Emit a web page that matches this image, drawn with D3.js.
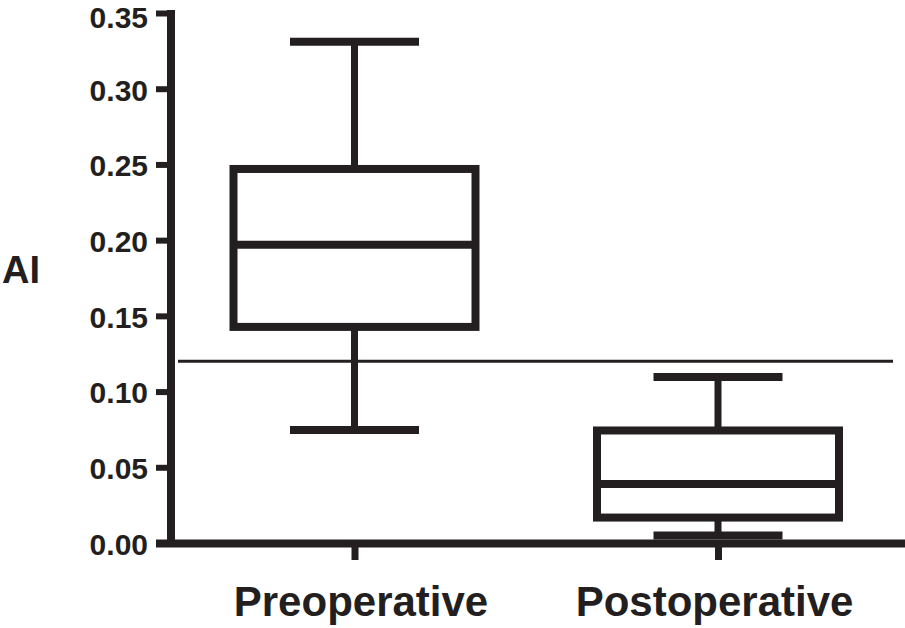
<!DOCTYPE html>
<html>
<head>
<meta charset="utf-8">
<script src="https://cdn.jsdelivr.net/npm/d3@7"></script>
<style>
  body { margin: 0; background: #fff; }
  text { font-family: "Liberation Sans", Arial, sans-serif; fill: #231f20; }
</style>
</head>
<body>
<svg id="chart" width="905" height="628"></svg>
<script>
var categories = ["Preoperative", "Postoperative"];
var mins = [0.0746, 0.005];
var q1s = [0.1427, 0.0168];
var medians = [0.197, 0.039];
var q3s = [0.247, 0.0743];
var maxs = [0.331, 0.1096];
var yTicks = [0, 0.05, 0.10, 0.15, 0.20, 0.25, 0.30, 0.35];
var refLine = 0.120;
var yLabel = "AI";

var INK = "#231f20";
var BOX_W = 242;
var CAP_W = 129;
var STROKE = 7;

var svg = d3.select("#chart");

var y = d3.scaleLinear().domain([0, 0.35]).range([543, 13]);
var x = d3.scalePoint().domain(categories).range([354.5, 718]);

var boxes = categories.map(function (c, i) {
  return { cat: c, min: mins[i], q1: q1s[i], med: medians[i], q3: q3s[i], max: maxs[i] };
});

// reference line (drawn under the boxes)
svg.append("line")
  .attr("x1", 178).attr("x2", 893)
  .attr("y1", y(refLine)).attr("y2", y(refLine))
  .style("stroke", INK).style("stroke-width", 3);

// y axis
var yAxis = svg.append("g")
  .attr("transform", "translate(171,0)")
  .call(d3.axisLeft(y).tickValues(yTicks).tickSize(15).tickPadding(8)
    .tickFormat(d3.format(".2f")));
yAxis.select(".domain").remove();
yAxis.selectAll(".tick line").style("stroke", INK).style("stroke-width", 6);
yAxis.selectAll(".tick text")
  .style("font-size", "30px").style("font-weight", "bold")
  .attr("dy", function (d) { return d === 0.35 ? "0.48em" : "0.38em"; }); // top label sits a bit lower

svg.append("line")
  .attr("x1", 171).attr("x2", 171).attr("y1", 10).attr("y2", 547)
  .style("stroke", INK).style("stroke-width", 8);

// x axis
svg.append("line")
  .attr("x1", 156).attr("x2", 905).attr("y1", 543.5).attr("y2", 543.5)
  .style("stroke", INK).style("stroke-width", 8);

var xAxis = svg.append("g")
  .attr("transform", "translate(0,543)")
  .call(d3.axisBottom(x).tickSize(17).tickPadding(26));
xAxis.select(".domain").remove();
xAxis.selectAll(".tick line").style("stroke", INK).style("stroke-width", 7);
xAxis.selectAll(".tick text")
  .style("font-size", "42px").style("font-weight", "bold")
  .attr("dx", function (d, i) { return i === 0 ? 6 : -4; })
  .attr("dy", "0.71em");

// boxes
var g = svg.selectAll("g.box").data(boxes).enter().append("g").attr("class", "box");

g.append("line")
  .attr("x1", function (d) { return x(d.cat); })
  .attr("x2", function (d) { return x(d.cat); })
  .attr("y1", function (d) { return y(d.max); })
  .attr("y2", function (d) { return y(d.min); })
  .style("stroke", INK).style("stroke-width", STROKE);

g.selectAll("line.cap")
  .data(function (d) { return [d.min, d.max].map(function (v) { return { cat: d.cat, v: v }; }); })
  .enter().append("line").attr("class", "cap")
  .attr("x1", function (d) { return x(d.cat) - CAP_W / 2; })
  .attr("x2", function (d) { return x(d.cat) + CAP_W / 2; })
  .attr("y1", function (d) { return y(d.v); })
  .attr("y2", function (d) { return y(d.v); })
  .style("stroke", INK).style("stroke-width", 8);

g.append("rect")
  .attr("x", function (d) { return x(d.cat) - BOX_W / 2; })
  .attr("y", function (d) { return y(d.q3); })
  .attr("width", BOX_W)
  .attr("height", function (d) { return y(d.q1) - y(d.q3); })
  .style("fill", "#fff").style("stroke", INK).style("stroke-width", 8);

g.append("line")
  .attr("x1", function (d) { return x(d.cat) - BOX_W / 2; })
  .attr("x2", function (d) { return x(d.cat) + BOX_W / 2; })
  .attr("y1", function (d) { return y(d.med); })
  .attr("y2", function (d) { return y(d.med); })
  .style("stroke", INK).style("stroke-width", 8);

// y label
svg.append("text")
  .attr("x", 2).attr("y", 283)
  .style("font-size", "38px").style("font-weight", "bold")
  .text(yLabel);
</script>
</body>
</html>
